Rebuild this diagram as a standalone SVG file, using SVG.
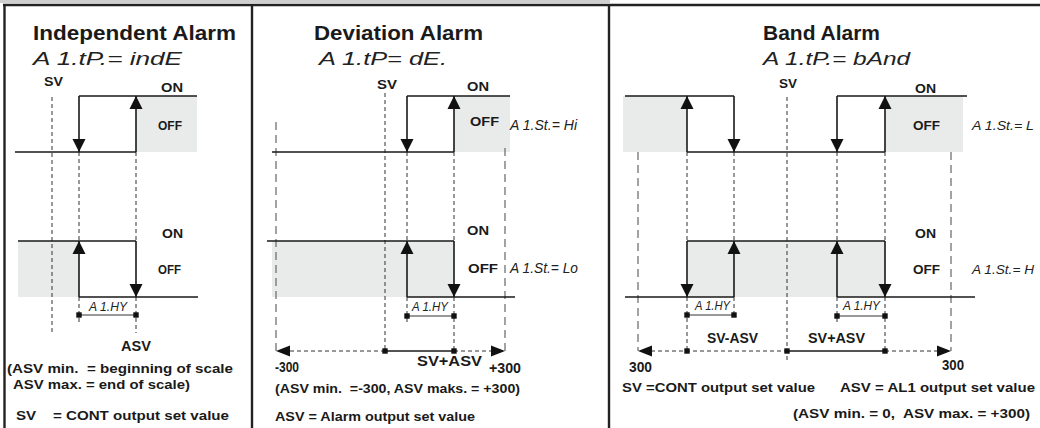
<svg xmlns="http://www.w3.org/2000/svg" xmlns:xlink="http://www.w3.org/1999/xlink" width="1040" height="428" viewBox="0 0 1040 428">
<style>
.b{font-family:"Liberation Sans",Arial,sans-serif;font-weight:bold;fill:#1a1a1a}
.ss{font-family:"Liberation Sans",Arial,sans-serif;font-style:italic;fill:#222}
.w{fill:none;stroke:#1a1a1a;stroke-width:1.6}
.d{fill:none;stroke:#333;stroke-width:1;stroke-dasharray:4 3}
.ld{fill:none;stroke:#666;stroke-width:1.2;stroke-dasharray:8 5}
.g{fill:#e9eaea}
.m{stroke:#777;stroke-width:1.4}
.fr{stroke:#222;stroke-width:2.4;fill:none}
</style>
<defs>
<polygon id="ad" points="-6.5,-13 6.5,-13 0,0" fill="#111"/>
<polygon id="au" points="-6.5,13 6.5,13 0,0" fill="#111"/>
<polygon id="al" points="14,-5.5 14,5.5 0,0" fill="#111"/>
<polygon id="ar" points="-14,-5.5 -14,5.5 0,0" fill="#111"/>
<rect id="sq" x="-2.7" y="-2.7" width="5.4" height="5.4" fill="#111"/>
</defs>

<g id="frame">
<rect x="0" y="0" width="610" height="3" fill="#cfcfcf"/>
<line class="fr" x1="3" y1="5" x2="1040" y2="5"/>
<line class="fr" x1="4.5" y1="4" x2="4.5" y2="428"/>
<line class="fr" x1="252" y1="4" x2="252" y2="428"/>
<line class="fr" x1="609" y1="4" x2="609" y2="428"/>
</g>

<!-- Panel 1 -->
<g id="independent">
<rect class="g" x="136" y="96" width="61" height="56"/>
<rect class="g" x="18" y="241" width="61" height="56"/>
<g id="p1-guides">
<path class="d" d="M52,97V335M79,152V241M79,297V323M136,152V241M136,297V333"/>
</g>
<g id="p1-wave">
<path class="w" d="M15,152H136M79,96V152M79,96H197M136,152V96"/>
<path class="w" d="M18,241H136M79,297V241M136,241V297M79,297H198"/>
<use xlink:href="#ad" x="79" y="152"/>
<use xlink:href="#au" x="136" y="96"/>
<use xlink:href="#au" x="79" y="241"/>
<use xlink:href="#ad" x="136" y="297"/>
<line class="m" x1="79" y1="315" x2="136" y2="315"/>
<use xlink:href="#sq" x="79" y="315"/>
<use xlink:href="#sq" x="136" y="315"/>
</g>
<text class="b" x="33" y="40" font-size="20" textLength="203" lengthAdjust="spacingAndGlyphs">Independent Alarm</text>
<text class="ss" x="33" y="65" font-size="19" textLength="149" lengthAdjust="spacingAndGlyphs">A 1.tP.= indE</text>
<text class="b" x="44" y="86" font-size="12.5" textLength="19" lengthAdjust="spacingAndGlyphs">SV</text>
<text class="b" x="161" y="92" font-size="13.5" textLength="22" lengthAdjust="spacingAndGlyphs">ON</text>
<text class="b" x="158" y="130" font-size="13.5" textLength="24" lengthAdjust="spacingAndGlyphs">OFF</text>
<text class="b" x="162" y="238" font-size="13.5" textLength="21" lengthAdjust="spacingAndGlyphs">ON</text>
<text class="b" x="158" y="274" font-size="13.5" textLength="23" lengthAdjust="spacingAndGlyphs">OFF</text>
<text class="ss" x="89" y="311" font-size="12" textLength="38" lengthAdjust="spacingAndGlyphs">A 1.HY</text>
<text class="b" x="121" y="351" font-size="14" textLength="30" lengthAdjust="spacingAndGlyphs">ASV</text>
<text class="b" x="7" y="373" font-size="13.5" textLength="226" lengthAdjust="spacingAndGlyphs" xml:space="preserve">(ASV min.  = beginning of scale</text>
<text class="b" x="13" y="389" font-size="13.5" textLength="177" lengthAdjust="spacingAndGlyphs">ASV max. = end of scale)</text>
<text class="b" x="16" y="420" font-size="13.5" textLength="213" lengthAdjust="spacingAndGlyphs" xml:space="preserve">SV    = CONT output set value</text>
</g>

<!-- Panel 2 -->
<g id="deviation">
<rect class="g" x="454" y="96" width="56" height="56"/>
<rect class="g" x="272" y="241" width="182" height="56"/>
<g id="p2-guides">
<path class="ld" d="M276,122V351M505,148V351"/>
<path class="d" d="M385,93V351M407,152V241M407,297V323M454,152V241M454,297V351"/>
</g>
<g id="p2-wave">
<path class="w" d="M272,152H454M407,96V152M407,96H510M454,152V96"/>
<path class="w" d="M267,241H454M407,297V241M454,241V297M407,297H515"/>
<use xlink:href="#ad" x="407" y="152"/>
<use xlink:href="#au" x="454" y="96"/>
<use xlink:href="#au" x="407" y="241"/>
<use xlink:href="#ad" x="454" y="297"/>
<line class="m" x1="407" y1="316" x2="454" y2="316"/>
<use xlink:href="#sq" x="407" y="316"/>
<use xlink:href="#sq" x="454" y="316"/>
</g>
<g id="p2-axis">
<path class="d" d="M290,351H385M454,351H492"/>
<path class="w" d="M385,351H454"/>
<use xlink:href="#al" x="276" y="351"/>
<use xlink:href="#ar" x="505" y="351"/>
<use xlink:href="#sq" x="385" y="351"/>
<use xlink:href="#sq" x="454" y="351"/>
</g>
<text class="b" x="314" y="40" font-size="20" textLength="169" lengthAdjust="spacingAndGlyphs">Deviation Alarm</text>
<text class="ss" x="319" y="65" font-size="19" textLength="128" lengthAdjust="spacingAndGlyphs">A 1.tP= dE.</text>
<text class="b" x="377" y="89" font-size="12.5" textLength="20" lengthAdjust="spacingAndGlyphs">SV</text>
<text class="b" x="467" y="91" font-size="13.5" textLength="22" lengthAdjust="spacingAndGlyphs">ON</text>
<text class="b" x="470" y="126" font-size="13.5" textLength="29" lengthAdjust="spacingAndGlyphs">OFF</text>
<text class="b" x="467" y="235" font-size="13.5" textLength="22" lengthAdjust="spacingAndGlyphs">ON</text>
<text class="b" x="468" y="273" font-size="13.5" textLength="30" lengthAdjust="spacingAndGlyphs">OFF</text>
<text class="ss" x="510" y="130" font-size="15" textLength="67" lengthAdjust="spacingAndGlyphs">A 1.St.= Hi</text>
<text class="ss" x="510" y="273" font-size="15" textLength="68" lengthAdjust="spacingAndGlyphs">A 1.St.= Lo</text>
<text class="ss" x="412" y="311" font-size="12" textLength="36" lengthAdjust="spacingAndGlyphs">A 1.HY</text>
<text class="b" x="275" y="372" font-size="14" textLength="24" lengthAdjust="spacingAndGlyphs">-300</text>
<text class="b" x="417" y="366" font-size="14" textLength="65" lengthAdjust="spacingAndGlyphs">SV+ASV</text>
<text class="b" x="489" y="373" font-size="14" textLength="32" lengthAdjust="spacingAndGlyphs">+300</text>
<text class="b" x="275" y="393" font-size="13.5" textLength="245" lengthAdjust="spacingAndGlyphs" xml:space="preserve">(ASV min.  =-300, ASV maks. = +300)</text>
<text class="b" x="275" y="421" font-size="13.5" textLength="200" lengthAdjust="spacingAndGlyphs">ASV = Alarm output set value</text>
</g>

<!-- Panel 3 -->
<g id="band">
<rect class="g" x="623" y="96" width="64" height="56"/>
<rect class="g" x="885" y="96" width="78" height="56"/>
<rect class="g" x="688" y="241" width="197" height="56"/>
<g id="p3-guides">
<path class="ld" d="M638,152V351M951,152V351"/>
<path class="d" d="M787,97V360M687,152V241M687,297V351M734,152V241M734,297V318M837,152V241M837,297V323M885,152V241M885,297V351"/>
</g>
<g id="p3-wave">
<path class="w" d="M625,96H734M687,152V96M734,96V152M687,152H885M837,96V152M837,96H967M885,152V96"/>
<path class="w" d="M625,297H734M687,241V297M687,241H885M734,297V241M837,297V241M885,241V297M837,297H975"/>
<use xlink:href="#au" x="687" y="96"/>
<use xlink:href="#ad" x="734" y="152"/>
<use xlink:href="#ad" x="837" y="152"/>
<use xlink:href="#au" x="885" y="96"/>
<use xlink:href="#ad" x="687" y="297"/>
<use xlink:href="#au" x="734" y="241"/>
<use xlink:href="#au" x="837" y="241"/>
<use xlink:href="#ad" x="885" y="297"/>
<line class="m" x1="687" y1="315" x2="734" y2="315"/>
<use xlink:href="#sq" x="687" y="315"/>
<use xlink:href="#sq" x="734" y="315"/>
<line class="m" x1="837" y1="316" x2="885" y2="316"/>
<use xlink:href="#sq" x="837" y="316"/>
<use xlink:href="#sq" x="885" y="316"/>
</g>
<g id="p3-axis">
<path class="d" d="M651,351H787M885,351H938"/>
<path class="w" d="M787,351H885"/>
<use xlink:href="#al" x="638" y="351"/>
<use xlink:href="#ar" x="951" y="351"/>
<use xlink:href="#sq" x="687" y="351"/>
<use xlink:href="#sq" x="787" y="351"/>
<use xlink:href="#sq" x="885" y="351"/>
</g>
<text class="b" x="763" y="40" font-size="20" textLength="117" lengthAdjust="spacingAndGlyphs">Band Alarm</text>
<text class="ss" x="763" y="65" font-size="19" textLength="147" lengthAdjust="spacingAndGlyphs">A 1.tP.= bAnd</text>
<text class="b" x="779" y="88" font-size="12.5" textLength="18" lengthAdjust="spacingAndGlyphs">SV</text>
<text class="b" x="915" y="93" font-size="13.5" textLength="21" lengthAdjust="spacingAndGlyphs">ON</text>
<text class="b" x="913" y="130" font-size="13.5" textLength="27" lengthAdjust="spacingAndGlyphs">OFF</text>
<text class="b" x="915" y="238" font-size="13.5" textLength="21" lengthAdjust="spacingAndGlyphs">ON</text>
<text class="b" x="913" y="274" font-size="13.5" textLength="27" lengthAdjust="spacingAndGlyphs">OFF</text>
<text class="ss" x="972" y="130" font-size="13.5" textLength="62" lengthAdjust="spacingAndGlyphs">A 1.St.= L</text>
<text class="ss" x="972" y="274" font-size="13.5" textLength="62" lengthAdjust="spacingAndGlyphs">A 1.St.= H</text>
<text class="ss" x="695" y="310" font-size="12" textLength="35" lengthAdjust="spacingAndGlyphs">A 1.HY</text>
<text class="ss" x="843" y="310" font-size="12" textLength="37" lengthAdjust="spacingAndGlyphs">A 1.HY</text>
<text class="b" x="629" y="372" font-size="14" textLength="23" lengthAdjust="spacingAndGlyphs">300</text>
<text class="b" x="707" y="343" font-size="14" textLength="51" lengthAdjust="spacingAndGlyphs">SV-ASV</text>
<text class="b" x="808" y="343" font-size="14" textLength="57" lengthAdjust="spacingAndGlyphs">SV+ASV</text>
<text class="b" x="942" y="370" font-size="14" textLength="22" lengthAdjust="spacingAndGlyphs">300</text>
<text class="b" x="622" y="392" font-size="13.5" textLength="193" lengthAdjust="spacingAndGlyphs">SV =CONT output set value</text>
<text class="b" x="840" y="392" font-size="13.5" textLength="195" lengthAdjust="spacingAndGlyphs">ASV = AL1 output set value</text>
<text class="b" x="793" y="418" font-size="13.5" textLength="237" lengthAdjust="spacingAndGlyphs" xml:space="preserve">(ASV min. = 0,  ASV max. = +300)</text>
</g>
</svg>
